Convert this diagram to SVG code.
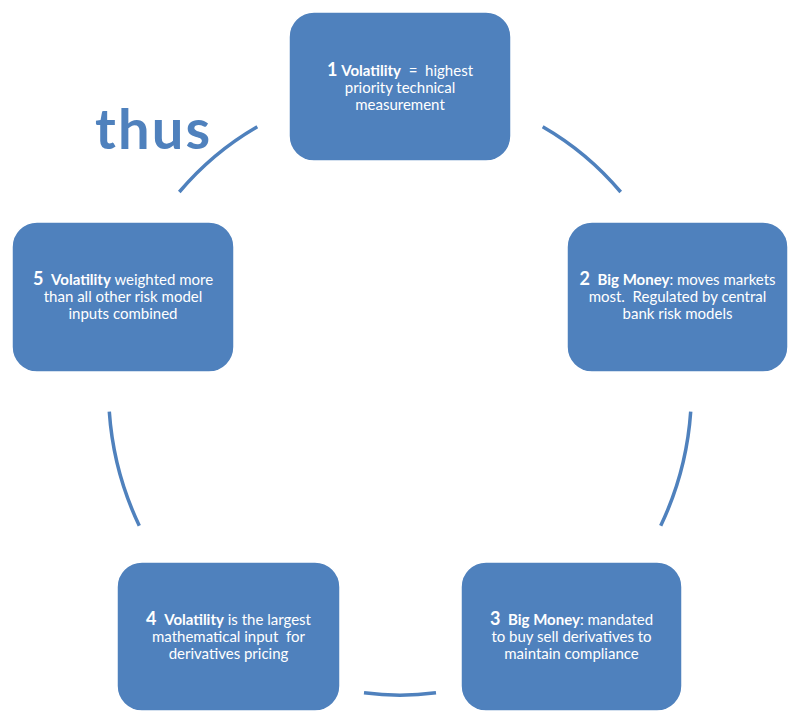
<svg xmlns="http://www.w3.org/2000/svg" width="800" height="725" viewBox="0 0 800 725">
<style>
.node rect{fill:#4F81BD;stroke:#FFFFFF;stroke-width:1.5}
.node text{font-family:Lato,"Liberation Sans",sans-serif;font-size:15px;fill:#FFFFFF;text-anchor:middle;white-space:pre}
.b{font-weight:bold}
.n{font-weight:bold;font-size:18px}
.arc{fill:none;stroke:#4F81BD;stroke-width:3.5}
.thus{font-family:Lato,"Liberation Sans",sans-serif;font-weight:bold;font-size:56px;fill:#4F81BD}
</style>
<rect width="800" height="725" fill="#FFFFFF"/>
<g id="connectors">
<path class="arc" d="M542.7,126.7 A292,304 0 0,1 620.7,192"/>
<path class="arc" d="M690.7,411.7 A292,304 0 0,1 660.7,525.7"/>
<path class="arc" d="M436,692.8 A292,304 0 0,1 364,692.8"/>
<path class="arc" d="M139.3,525.7 A292,304 0 0,1 109.3,411.7"/>
<path class="arc" d="M179.3,192 A292,304 0 0,1 257.3,126.7"/>
</g>
<g id="node1" class="node">
<rect x="289" y="12" width="222" height="149" rx="25"/>
<text x="400" y="75.5"><tspan class="n">1</tspan> <tspan class="b">Volatility</tspan>  =  highest</text>
<text x="400" y="92.5">priority technical</text>
<text x="400" y="109.5">measurement</text>
</g>
<g id="node2" class="node">
<rect x="567" y="222" width="221" height="150" rx="25"/>
<text x="677.5" y="284.5"><tspan class="n">2</tspan>  <tspan class="b">Big Money</tspan>: moves markets</text>
<text x="677.5" y="301.5">most.  Regulated by central</text>
<text x="677.5" y="318.5">bank risk models</text>
</g>
<g id="node3" class="node">
<rect x="461" y="562" width="221" height="149" rx="25"/>
<text x="571.5" y="624.5"><tspan class="n">3</tspan>  <tspan class="b">Big Money</tspan>: mandated</text>
<text x="571.5" y="641.5">to buy sell derivatives to</text>
<text x="571.5" y="658.5">maintain compliance</text>
</g>
<g id="node4" class="node">
<rect x="117" y="562" width="223" height="149" rx="25"/>
<text x="228.5" y="624.5"><tspan class="n">4</tspan>  <tspan class="b">Volatility</tspan> is the largest</text>
<text x="228.5" y="641.5">mathematical input  for</text>
<text x="228.5" y="658.5">derivatives pricing</text>
</g>
<g id="node5" class="node">
<rect x="12" y="222" width="222" height="150" rx="25"/>
<text x="123" y="284.5"><tspan class="n">5</tspan>  <tspan class="b">Volatility</tspan> weighted more</text>
<text x="123" y="301.5">than all other risk model</text>
<text x="123" y="318.5">inputs combined</text>
</g>
<text class="thus" x="95" y="149" textLength="115" lengthAdjust="spacing">thus</text>
</svg>
